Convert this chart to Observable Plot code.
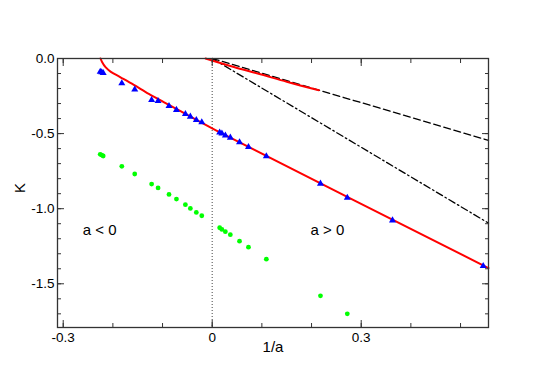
<!DOCTYPE html>
<html>
<head>
<meta charset="utf-8">
<script src="https://cdn.jsdelivr.net/npm/d3@7"></script>
<script src="https://cdn.jsdelivr.net/npm/@observablehq/plot@0.6"></script>
<style>
  html, body { margin: 0; padding: 0; background: #fff; }
  #chart { width: 545px; height: 385px; }
</style>
</head>
<body>
<div id="chart"></div>
<script>
// ---- data ----
// a < 0 branch (1/a values)
const invA_neg = [-0.2255, -0.2225, -0.2195, -0.182, -0.156, -0.122, -0.109, -0.087, -0.072, -0.054, -0.044, -0.032, -0.021];
const K_blue_neg = [-0.088, -0.092, -0.097, -0.165, -0.207, -0.276, -0.283, -0.316, -0.342, -0.369, -0.387, -0.409, -0.425];
const K_green_neg = [-0.638, -0.643, -0.649, -0.718, -0.769, -0.836, -0.862, -0.905, -0.936, -0.973, -0.998, -1.025, -1.047];
// a > 0 branch
const invA_pos = [0.015, 0.0195, 0.0265, 0.0365, 0.055, 0.073, 0.109, 0.218, 0.272, 0.363, 0.5456];
const K_blue_pos = [-0.493, -0.500, -0.513, -0.527, -0.558, -0.589, -0.651, -0.833, -0.927, -1.078, -1.382];
const K_green_pos = [-1.127, -1.138, -1.153, -1.173, -1.216, -1.256, -1.336, -1.58, -1.70];
// red curves
const redX = [-0.2249, -0.2215, -0.2148, -0.2048, -0.1846, -0.1578, -0.1276, -0.1, -0.0638, 0, 0.0133, 0.5563];
const redY = [0, -0.025, -0.058, -0.087, -0.125, -0.176, -0.236, -0.286, -0.35, -0.466, -0.489, -1.395];
const redUpX = [-0.0135, 0.03, 0.06, 0.097, 0.15, 0.2147];
const redUpY = [0, -0.043, -0.072, -0.105, -0.155, -0.212];
// black reference lines
const dashX = [0, 0.5563];
const dashY = [0, -0.545];
const dashDotX = [0, 0.5563];
const dashDotY = [0, -1.096];
// annotations
const noteText = ["a < 0", "a > 0"];
const noteX = [-0.2265, 0.2321];
const noteY = [-1.145, -1.145];
// axes
const xDomain = [-0.3115, 0.5563];
const yDomain = [-1.791, 0];
const xMajor = [-0.3, 0, 0.3];
const xLabels = ["-0.3", "0", "0.3"];
const xMinor = [-0.3, -0.2, -0.1, 0, 0.1, 0.2, 0.3, 0.4, 0.5];
const yMajor = [0, -0.5, -1.0, -1.5];
const yLabels = ["0.0", "-0.5", "-1.0", "-1.5"];
const yMinor = [0, -0.1, -0.2, -0.3, -0.4, -0.5, -0.6, -0.7, -0.8, -0.9, -1.0, -1.1, -1.2, -1.3, -1.4, -1.5, -1.6, -1.7];

// ---- tables ----
const blue = invA_neg.map((x, i) => ({x, y: K_blue_neg[i]}))
  .concat(invA_pos.map((x, i) => ({x, y: K_blue_pos[i]})));
const green = invA_neg.map((x, i) => ({x, y: K_green_neg[i]}))
  .concat(K_green_pos.map((y, i) => ({x: invA_pos[i], y})));
const red = redX.map((x, i) => ({x, y: redY[i]}));
const redUp = redUpX.map((x, i) => ({x, y: redUpY[i]}));
const dash = dashX.map((x, i) => ({x, y: dashY[i]}));
const dashDot = dashDotX.map((x, i) => ({x, y: dashDotY[i]}));
const notes = noteText.map((t, i) => ({t, x: noteX[i], y: noteY[i]}));
const xLab = new Map(xMajor.map((v, i) => [v, xLabels[i]]));
const yLab = new Map(yMajor.map((v, i) => [v, yLabels[i]]));

const font = "'Liberation Sans', Arial, Helvetica, sans-serif";
const axisColor = "#333";
const tickOpts = {tickFormat: () => "", stroke: axisColor, label: null};

const chart = Plot.plot({
  width: 545,
  height: 385,
  marginLeft: 57,
  marginRight: 57,
  marginTop: 58,
  marginBottom: 58,
  style: {fontFamily: font, fontSize: "13.5px", color: "#000", background: "#fff"},
  x: {domain: xDomain, axis: null, label: null},
  y: {domain: yDomain, axis: null, label: null},
  marks: [
    Plot.ruleX([0], {stroke: "#666", strokeDasharray: "1,2", strokeWidth: 1.2}),
    Plot.line(dash, {x: "x", y: "y", stroke: "#000", strokeWidth: 1.3, strokeDasharray: "7,3.5"}),
    Plot.line(dashDot, {x: "x", y: "y", stroke: "#000", strokeWidth: 1.3, strokeDasharray: "7,3,1.5,3"}),
    Plot.line(red, {x: "x", y: "y", stroke: "#ff0000", strokeWidth: 2, curve: "catmull-rom"}),
    Plot.line(redUp, {x: "x", y: "y", stroke: "#ff0000", strokeWidth: 2, curve: "catmull-rom"}),
    Plot.dot(green, {x: "x", y: "y", r: 2.4, fill: "#00ff00", stroke: null}),
    Plot.dot(blue, {x: "x", y: "y", r: 2.6, symbol: "triangle", fill: "#0000ff", stroke: null}),
    Plot.text(notes, {x: "x", y: "y", text: "t", fontSize: 15, fill: "#000"}),
    // tick marks (inward) on all four sides
    Plot.axisX({anchor: "bottom", ticks: xMinor, tickSize: -4, ...tickOpts}),
    Plot.axisX({anchor: "bottom", ticks: xMajor, tickSize: -7, ...tickOpts}),
    Plot.axisX({anchor: "top", ticks: xMinor, tickSize: -4, ...tickOpts}),
    Plot.axisX({anchor: "top", ticks: xMajor, tickSize: -7, ...tickOpts}),
    Plot.axisY({anchor: "left", ticks: yMinor, tickSize: -4, ...tickOpts}),
    Plot.axisY({anchor: "left", ticks: yMajor, tickSize: -7, ...tickOpts}),
    Plot.axisY({anchor: "right", ticks: yMinor, tickSize: -4, ...tickOpts}),
    Plot.axisY({anchor: "right", ticks: yMajor, tickSize: -7, ...tickOpts}),
    // tick labels
    Plot.axisX({anchor: "bottom", ticks: xMajor, tickSize: 0, tickPadding: 5, tickFormat: d => xLab.get(d), fontSize: 13.5, fill: "#000", label: null}),
    Plot.axisY({anchor: "left", ticks: yMajor, tickSize: 0, tickPadding: 3, tickFormat: d => yLab.get(d), fontSize: 13.5, fill: "#000", label: null}),
    Plot.frame({stroke: axisColor, strokeWidth: 1.3}),
    // axis titles
    Plot.text(["1/a"], {frameAnchor: "bottom", dy: 24, text: d => d, fontSize: 15, fill: "#000"}),
    Plot.text(["K"], {frameAnchor: "left", dx: -37, rotate: -90, text: d => d, fontSize: 15, fill: "#000"})
  ]
});
document.getElementById("chart").appendChild(chart);
</script>
</body>
</html>
